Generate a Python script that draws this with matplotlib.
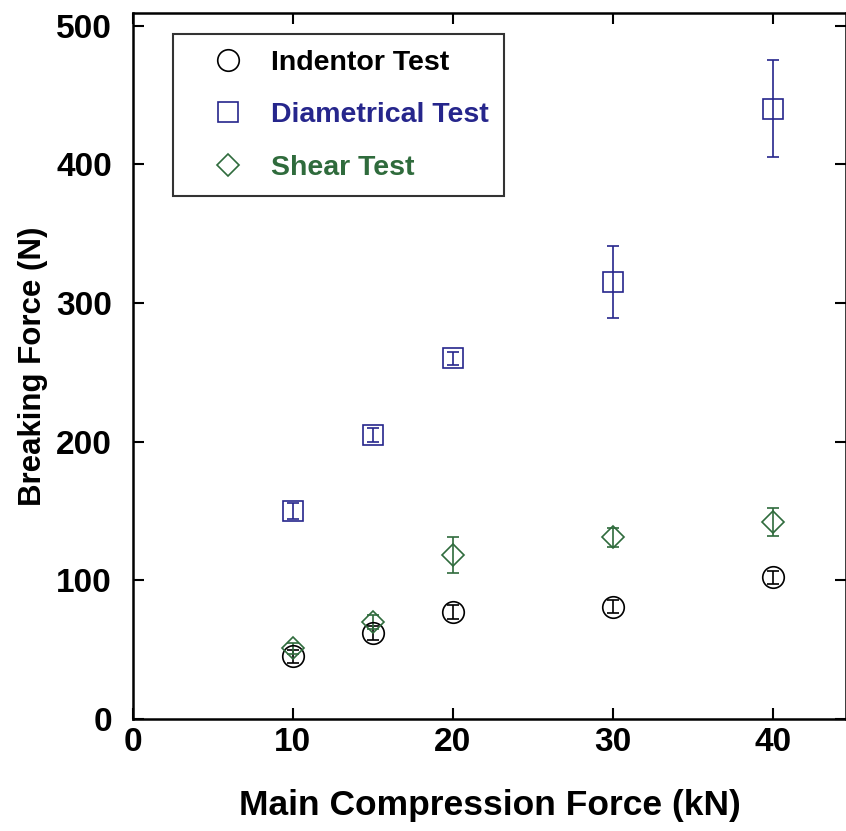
import numpy as np
import matplotlib.pyplot as plt

plt.rcParams['font.family'] = ['Liberation Sans', 'DejaVu Sans']
plt.rcParams['font.weight'] = 'bold'

force = [10, 15, 20, 30, 40]

indentor = [45, 62, 77, 81, 102]
indentor_err = [5, 5, 5, 5, 5]

diametrical = [150, 205, 260, 315, 440]
diametrical_err = [6, 5, 5, 26, 35]

shear = [51, 70, 118, 131, 142]
shear_err = [4, 5, 13, 7, 10]

blue = '#26268c'
green = '#2f6b3c'

fig = plt.figure(figsize=(8.46, 8.31), dpi=100)
ax = fig.add_axes([0.157, 0.135, 0.843, 0.849])

common = dict(mfc='none', mew=1.2, elinewidth=1.2, capsize=4, capthick=1.2)
ax.errorbar(force, indentor, yerr=indentor_err, fmt='o', ms=15.5,
            mec='black', ecolor='black', label='Indentor Test', **common)
ax.errorbar(force, diametrical, yerr=diametrical_err, fmt='s', ms=15,
            mec=blue, ecolor=blue, label='Diametrical Test', **common)
ax.errorbar(force, shear, yerr=shear_err, fmt='D', ms=11,
            mec=green, ecolor=green, label='Shear Test', **common)

ax.set_xlim(0, 44.56)
ax.set_ylim(0, 509)
ax.set_xticks([0, 10, 20, 30, 40])
ax.set_yticks([0, 100, 200, 300, 400, 500])
ax.tick_params(direction='in', length=8, width=1.5, top=True, right=True,
               labelsize=24, pad=6)
ax.tick_params(axis='y', pad=15)
for s in ax.spines.values():
    s.set_linewidth(1.8)

ax.set_xlabel('Main Compression Force (kN)', fontsize=25.5, fontweight='bold', labelpad=22)
ax.set_ylabel('Breaking Force (N)', fontsize=22.5, fontweight='bold', labelpad=6)

handles, labels = ax.get_legend_handles_labels()
handles = [h[0] for h in handles]
leg = ax.legend(handles, labels, loc='upper left', bbox_to_anchor=(0.056, 0.970),
                borderaxespad=0, fontsize=20.5, frameon=True, fancybox=False,
                edgecolor='black', borderpad=0.55, labelspacing=0.92,
                handlelength=2.8, handletextpad=0.1, markerscale=1.0)
leg.get_frame().set_linewidth(1.5)
for t, c in zip(leg.get_texts(), ['black', blue, green]):
    t.set_color(c)
    t.set_fontweight('bold')

fig.savefig('out.png', dpi=100)
